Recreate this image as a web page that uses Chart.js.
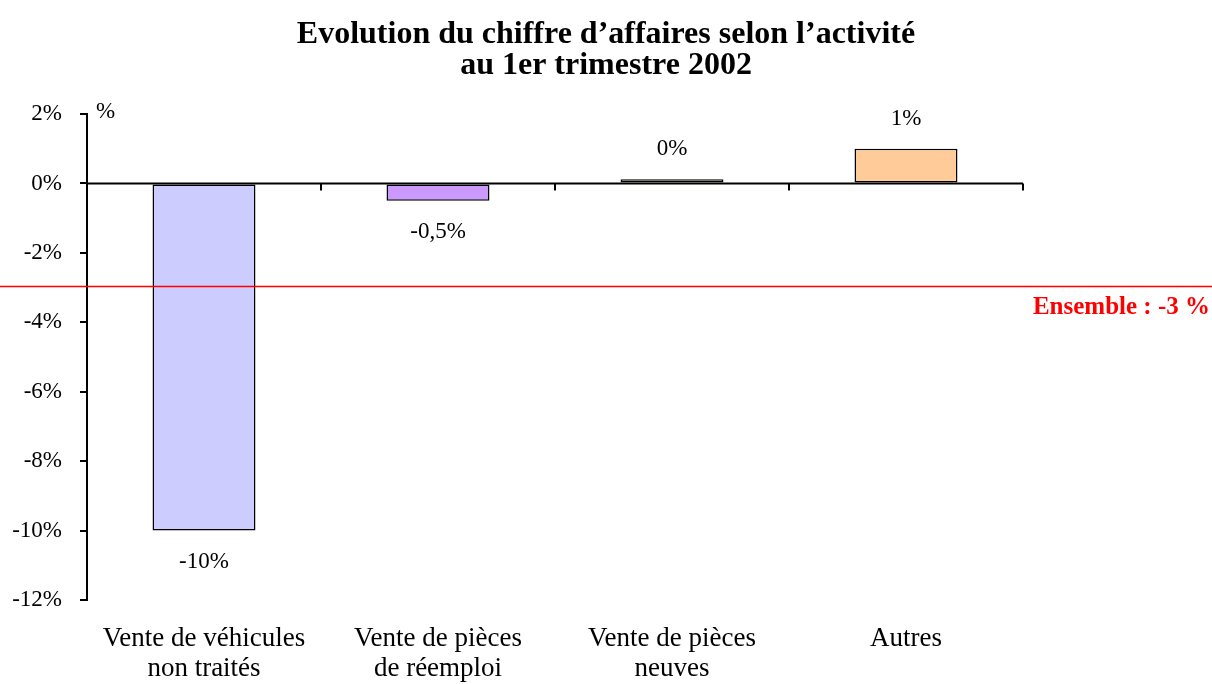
<!DOCTYPE html>
<html>
<head>
<meta charset="utf-8">
<script src="https://cdn.jsdelivr.net/npm/chart.js@4.4.1/dist/chart.umd.min.js"></script>
<style>
  html, body { margin: 0; padding: 0; background: #fff; overflow: hidden; }
  canvas { display: block; }
</style>
</head>
<body>
<canvas id="activiteChart" width="1212" height="684"></canvas>
<script>
const categories = [
    ['Vente de véhicules', 'non traités'],
    ['Vente de pièces', 'de réemploi'],
    ['Vente de pièces', 'neuves'],
    'Autres'
];
const evolution = [-10, -0.5, 0.12, 1.0];
const valueLabels = ['-10%', '-0,5%', '0%', '1%'];
const barColors = ['#CCCCFF', '#CC99FF', '#FFFFCC', '#FFCC99'];
const ensemble = -3;
const ensembleLabel = 'Ensemble : -3 %';

const serif = '"Liberation Serif", "Times New Roman", serif';

// zero line, value labels, "%" unit and the red overall line
const overlay = {
    id: 'overlay',
    afterDatasetsDraw(chart) {
        const { ctx, chartArea, scales: { x, y } } = chart;
        const y0 = y.getPixelForValue(0);
        const half = (x.getPixelForValue(1) - x.getPixelForValue(0)) / 2;
        ctx.save();
        ctx.strokeStyle = '#000';
        ctx.lineWidth = 2;
        ctx.beginPath();
        ctx.moveTo(chartArea.left, y0);
        ctx.lineTo(chartArea.right, y0);
        for (let i = 0; i < categories.length; i++) {
            const bx = x.getPixelForValue(i) + half;
            ctx.moveTo(bx, y0);
            ctx.lineTo(bx, y0 + 7);
        }
        ctx.stroke();

        ctx.fillStyle = '#000';
        ctx.font = '23px ' + serif;
        ctx.textAlign = 'center';
        ctx.textBaseline = 'middle';
        const meta = chart.getDatasetMeta(0);
        meta.data.forEach((bar, i) => {
            const dy = evolution[i] < 0 ? 31 : -30;
            ctx.fillText(valueLabels[i], bar.x, bar.y + dy);
        });

        ctx.textAlign = 'left';
        ctx.fillText('%', chartArea.left + 9, chartArea.top - 2);

        const ye = y.getPixelForValue(ensemble);
        ctx.strokeStyle = '#FF0000';
        ctx.lineWidth = 1.5;
        ctx.beginPath();
        ctx.moveTo(0, ye - 1);
        ctx.lineTo(chart.width, ye - 1);
        ctx.stroke();
        ctx.fillStyle = '#FF0000';
        ctx.font = 'bold 25px ' + serif;
        ctx.textAlign = 'right';
        ctx.fillText(ensembleLabel, chart.width - 2, ye + 20);
        ctx.restore();
    }
};

const ctx = document.getElementById('activiteChart').getContext('2d');
const activiteChart = new Chart(ctx, {
    type: 'bar',
    data: {
        labels: categories,
        datasets: [{
            data: evolution,
            backgroundColor: barColors,
            borderColor: '#000',
            borderWidth: 1.5,
            borderSkipped: false,
            categoryPercentage: 1,
            barPercentage: 0.44
        }]
    },
    options: {
        responsive: false,
        animation: false,
        devicePixelRatio: 1,
        layout: {
            padding: 0
        },
        plugins: {
            legend: { display: false },
            tooltip: { enabled: false },
            title: {
                display: true,
                text: ['Evolution du chiffre d\u2019affaires selon l\u2019activité', 'au 1er trimestre 2002'],
                color: '#000',
                font: { family: serif, size: 32, weight: 'bold', lineHeight: 0.97 },
                padding: { top: 19, bottom: 33 }
            }
        },
        scales: {
            x: {
                grid: { display: false, drawTicks: false },
                border: { display: false },
                ticks: {
                    color: '#000',
                    font: { family: serif, size: 27, lineHeight: 1.11 },
                    padding: 24,
                    maxRotation: 0,
                    autoSkip: false
                },
                afterFit(scale) { scale.height = 84; }
            },
            y: {
                min: -12,
                max: 2,
                grid: {
                    drawOnChartArea: false,
                    drawTicks: true,
                    tickLength: 7,
                    color: '#000',
                    lineWidth: 2
                },
                border: { color: '#000', width: 2 },
                ticks: {
                    stepSize: 2,
                    color: '#000',
                    padding: 18,
                    font: { family: serif, size: 23 },
                    callback: v => v + '%'
                },
                afterFit(scale) { scale.width = 87; }
            },
            // empty right-hand space so the title stays centred on the page
            yRight: {
                position: 'right',
                min: -12,
                max: 2,
                grid: { display: false, drawTicks: false },
                border: { display: false },
                ticks: { display: false },
                afterFit(scale) { scale.width = 189; }
            }
        }
    },
    plugins: [overlay]
});
</script>
</body>
</html>
